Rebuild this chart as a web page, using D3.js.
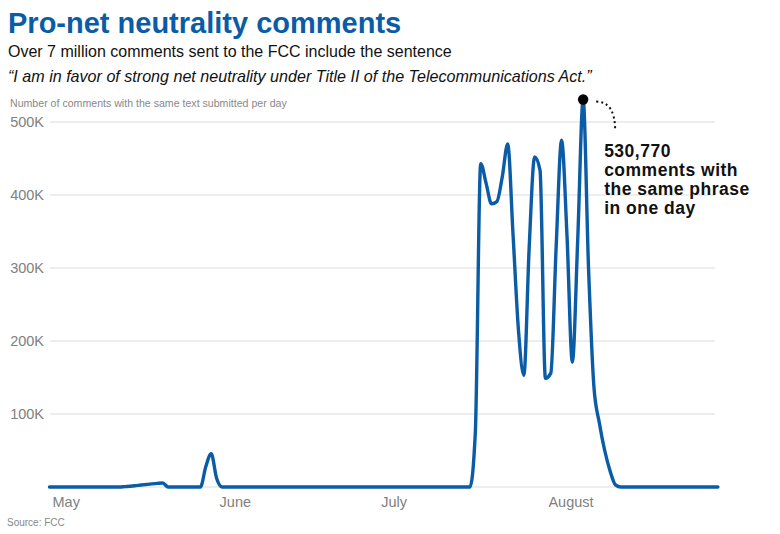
<!DOCTYPE html>
<html>
<head>
<meta charset="utf-8">
<script src="https://cdn.jsdelivr.net/npm/d3@7"></script>
<style>
  html, body { margin: 0; padding: 0; background: #fff; }
  svg { display: block; font-family: "Liberation Sans", Arial, Helvetica, sans-serif; }
</style>
</head>
<body>
<svg id="chart" width="780" height="534"></svg>
<script>
// ---- Data ----
const dates = [
  "2017-05-01", "2017-05-14", "2017-05-15", "2017-05-16", "2017-05-17", "2017-05-18",
  "2017-05-19", "2017-05-20", "2017-05-21", "2017-05-22", "2017-05-23",
  "2017-05-29", "2017-05-30", "2017-05-31", "2017-06-01", "2017-06-02",
  "2017-07-18", "2017-07-19", "2017-07-20", "2017-07-21", "2017-07-22", "2017-07-23",
  "2017-07-24", "2017-07-25", "2017-07-26", "2017-07-27", "2017-07-28", "2017-07-29",
  "2017-07-30", "2017-07-31", "2017-08-01", "2017-08-02", "2017-08-03", "2017-08-04",
  "2017-08-05", "2017-08-06", "2017-08-07", "2017-08-08", "2017-08-09", "2017-08-10",
  "2017-08-11", "2017-08-12", "2017-08-13", "2017-08-14", "2017-08-15", "2017-09-02"
];
const comments = [
  0, 0, 500, 1000, 1800, 2700,
  3500, 4300, 5000, 5500, 0,
  0, 28000, 45500, 12000, 0,
  0, 75000, 443000, 416000, 388000, 391000,
  425000, 470000, 345000, 215000, 153000, 330000,
  452000, 434000, 149000, 156000, 330000, 475000,
  345000, 171000, 340000, 530770, 300000, 137000,
  88000, 50000, 22000, 3000, 0, 0
];
const yTickValues = [100000, 200000, 300000, 400000, 500000];
const yTickLabels = ["100K", "200K", "300K", "400K", "500K"];
const monthDates = ["2017-05-01", "2017-06-01", "2017-07-01", "2017-08-01"];
const monthLabels = ["May", "June", "July", "August"];
const domainDates = ["2017-05-01", "2017-09-02"];
const peakDate = "2017-08-08";
const peakValue = 530770;
const annotationLines = ["530,770", "comments with", "the same phrase", "in one day"];

const titleText = "Pro-net neutrality comments";
const subtitleText = "Over 7 million comments sent to the FCC include the sentence";
const quoteText = "\u201CI am in favor of strong net neutrality under Title II of the Telecommunications Act.\u201D";
const yTitleText = "Number of comments with the same text submitted per day";
const sourceText = "Source: FCC";

// ---- Setup ----
const parse = d3.timeParse("%Y-%m-%d");
const data = dates.map((d, i) => ({ date: parse(d), value: comments[i] }));

const svg = d3.select("#chart");
const gridLeft = 50, gridRight = 715;

const x = d3.scaleTime()
  .domain(domainDates.map(parse))
  .range([49.5, 717.9]);
const y = d3.scaleLinear()
  .domain([0, 500000])
  .range([487, 122]);

const blue = "#0b5ca6";

// Title block
svg.append("text").attr("x", 8).attr("y", 33)
  .attr("font-size", 29).attr("font-weight", "bold").attr("fill", blue)
  .text(titleText);
svg.append("text").attr("x", 8).attr("y", 57)
  .attr("font-size", 16).attr("fill", "#111")
  .text(subtitleText);
svg.append("text").attr("x", 8).attr("y", 82)
  .attr("font-size", 16.1).attr("font-style", "italic").attr("fill", "#111")
  .text(quoteText);

// Y axis title
svg.append("text").attr("x", 10).attr("y", 107)
  .attr("font-size", 10.6).attr("fill", "#888")
  .text(yTitleText);

// Gridlines (including baseline)
const grid = svg.append("g");
grid.selectAll("line")
  .data([0].concat(yTickValues))
  .join("line")
  .attr("x1", gridLeft).attr("x2", gridRight)
  .attr("y1", d => y(d)).attr("y2", d => y(d))
  .attr("stroke", "#dcdcdc").attr("stroke-width", 1);

// Y tick labels
svg.append("g").selectAll("text")
  .data(yTickValues)
  .join("text")
  .attr("x", 44).attr("y", d => y(d) + 5)
  .attr("text-anchor", "end")
  .attr("font-size", 14.5).attr("fill", "#808080")
  .text((d, i) => yTickLabels[i]);

// X month labels
svg.append("g").selectAll("text")
  .data(monthDates)
  .join("text")
  .attr("x", d => x(parse(d)) + 3).attr("y", 507)
  .attr("font-size", 14.5).attr("fill", "#808080")
  .text((d, i) => monthLabels[i]);

// Line
const line = d3.line()
  .x(d => x(d.date))
  .y(d => y(d.value))
  .curve(d3.curveMonotoneX);
svg.append("path")
  .datum(data)
  .attr("d", line)
  .attr("fill", "none")
  .attr("stroke", blue)
  .attr("stroke-width", 3.4)
  .attr("stroke-linejoin", "round")
  .attr("stroke-linecap", "round");

// Annotation
const px = x(parse(peakDate)), py = y(peakValue);
svg.append("path")
  .attr("d", `M${px + 13},${py + 2} Q${px + 32},${py + 2} ${px + 32},${py + 31}`)
  .attr("fill", "none").attr("stroke", "#111").attr("stroke-width", 2)
  .attr("stroke-dasharray", "2,3");
svg.append("circle")
  .attr("cx", px).attr("cy", py).attr("r", 5.2).attr("fill", "#000");
const ann = svg.append("text")
  .attr("font-size", 17.5).attr("font-weight", "bold").attr("fill", "#111")
  .attr("letter-spacing", "0.5px");
annotationLines.forEach((t, i) => {
  ann.append("tspan").attr("x", px + 21).attr("y", py + 57 + i * 19).text(t);
});

// Source
svg.append("text").attr("x", 7).attr("y", 526)
  .attr("font-size", 10).attr("fill", "#888")
  .text(sourceText);
</script>
</body>
</html>
